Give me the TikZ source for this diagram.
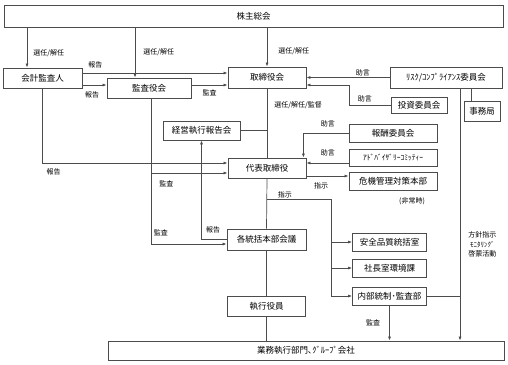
\documentclass[tikz,border=0pt]{standalone}
\usepackage{fontspec}
\setmainfont{Noto Sans CJK JP}
\usetikzlibrary{arrows.meta}
\begin{document}
\begin{tikzpicture}[x=1pt,y=-1pt,
    caixa/.style={draw=black!70,line width=0.8pt,inner sep=0pt,font=\fontsize{8.5}{10}\selectfont},
    rotulo/.style={font=\fontsize{7}{9.5}\selectfont,inner sep=1pt},
    linha/.style={draw=black!70,line width=0.7pt},
    seta/.style={linha,-{Latex[length=4pt,width=3pt]}}
]
\useasboundingbox (0,0) rectangle (508,364);

\node[caixa,minimum width=499,minimum height=22] (soukai) at (253.5,16) {株主総会};
\node[caixa,minimum width=79,minimum height=20] (kaikei) at (42.5,78) {会計監査人};
\node[caixa,minimum width=84,minimum height=20] (kansa) at (149,88) {監査役会};
\node[caixa,minimum width=78,minimum height=21] (torishimari) at (267,77.5) {取締役会};
\node[caixa,minimum width=112,minimum height=21] (risk) at (446,77.5) {ﾘｽｸ/ｺﾝﾌﾟﾗｲｱﾝｽ委員会};
\node[caixa,minimum width=56,minimum height=16] (toushi) at (419,105) {投資委員会};
\node[caixa,minimum width=36,minimum height=20] (jimu) at (482,111) {事務局};
\node[caixa,minimum width=77,minimum height=19] (keiei) at (201.5,130.5) {経営執行報告会};
\node[caixa,minimum width=88,minimum height=18] (housyu) at (393,133) {報酬委員会};
\node[caixa,minimum width=88,minimum height=17,font=\fontsize{7.5}{8}\selectfont] (advisory) at (393,157.5) {ｱﾄﾞﾊﾞｲｻﾞﾘｰｺﾐｯﾃｨｰ};
\node[caixa,minimum width=78,minimum height=20] (daihyo) at (267,168) {代表取締役};
\node[caixa,minimum width=88,minimum height=18] (kiki) at (393,181) {危機管理対策本部};
\node[rotulo] (hijouji) at (412,201) {(非常時)};
\node[caixa,minimum width=79,minimum height=21] (kaku) at (266.5,239.5) {各統括本部会議};
\node[caixa,minimum width=74,minimum height=18] (anzen) at (389.5,242) {安全品質統括室};
\node[caixa,minimum width=74,minimum height=18] (shacho) at (389.5,268) {社長室環境課};
\node[caixa,minimum width=74,minimum height=18] (naibu) at (389.5,296) {内部統制･監査部};
\node[caixa,minimum width=78,minimum height=20] (shikko) at (266.5,306) {執行役員};
\node[caixa,minimum width=396,minimum height=19] (gyomu) at (306,350.5) {業務執行部門､ｸﾞﾙｰﾌﾟ会社};

\coordinate (kaikeiin) at ([xshift=-15.5pt]kaikei.north);
\coordinate (kansain) at ([xshift=-14pt]kansa.north);
\coordinate (kansaout) at ([xshift=2pt]kansa.south);
\coordinate (toushiknick) at (349,85);
\coordinate (bunki) at (331,199);
\coordinate (riskdown) at ([xshift=14pt]risk.south);

\draw[seta] (kaikeiin |- soukai.south) -- node[rotulo,right=5pt,pos=0.65] {選任/解任} (kaikeiin);
\draw[seta] (kansain |- soukai.south) -- node[rotulo,right=7pt,pos=0.49] {選任/解任} (kansain);
\draw[seta] (soukai.south -| torishimari.north) -- node[rotulo,right=10pt,pos=0.6] {選任/解任} (torishimari.north);

\draw[seta] ([yshift=5pt]kaikei.east) -- node[rotulo,above=4pt,pos=0.09] {報告} ([yshift=4.5pt]torishimari.west);
\draw[seta] ([yshift=-7pt]kaikei.east) -- node[rotulo,below=5pt,pos=0.4] {報告} ([yshift=3pt]kansa.west);
\draw[seta] ([yshift=3pt]kansa.east) -- node[rotulo,below=3pt] {監査} ([yshift=-7.5pt]torishimari.west);

\draw[seta] (risk.west) -- node[rotulo,above=0pt,pos=0.32] {助言} (torishimari.east);
\draw[seta] (toushi.west) -| node[rotulo,above=2pt,pos=0.31] {助言} (toushiknick) -- ([yshift=-7.5pt]torishimari.east);
\draw[seta] (housyu.west) -| node[rotulo,above=5pt,pos=0.23] {助言} ([xshift=-3pt]daihyo.north east);
\draw[seta] ([yshift=-5.5pt]advisory.west) -- node[rotulo,above=6pt,pos=0.49] {助言} ([yshift=5pt]daihyo.east);
\draw[seta] ([yshift=-8pt]daihyo.east) -- node[rotulo,below=5pt,pos=0.35] {指示} ([yshift=5pt]kiki.west);

\draw[linha] (torishimari.south) -- node[rotulo,right=6pt,pos=0.24] {選任/解任/監督} (daihyo.north);
\draw[linha] (keiei.east) -- (keiei.east -| torishimari.south);

\draw[seta] (kaikei.south) |- node[rotulo,below=4.5pt,pos=0.53] {報告} ([yshift=5pt]daihyo.west);
\draw[seta] (kansaout) |- node[rotulo,below=6pt,pos=0.6] {監査} ([yshift=-5pt]daihyo.west);
\draw[seta] (kansaout) |- node[rotulo,above=7pt,pos=0.565] {監査} ([yshift=-4.5pt]kaku.west);
\draw[seta] (kaku.west) -| node[rotulo,above=5pt,pos=0.27] {報告} (keiei.south);

\draw[linha] (daihyo.south) -- (kaku.north);
\draw[seta] (daihyo.south |- bunki) -- node[rotulo,above=0pt,pos=0.28] {指示} (bunki) |- (naibu.west);
\draw[seta] (bunki |- anzen.west) -- (anzen.west);
\draw[seta] (bunki |- shacho.west) -- (shacho.west);

\draw[linha] (kaku.south) -- (shikko.north);
\draw[linha] (shikko.south) -- (shikko.south |- gyomu.north);
\draw[seta] (naibu.south) -- node[rotulo,left=8pt,pos=0.5] {監査} (naibu.south |- gyomu.north);
\draw[seta] (riskdown) -- node[rotulo,right=7pt,pos=0.62,align=center] {方針指示\\ﾓﾆﾀﾘﾝｸﾞ\\啓蒙活動} (riskdown |- gyomu.north);
\draw[linha] (naibu.east) -- (naibu.east -| riskdown);
\draw[linha] ([xshift=25pt]risk.south) -- ([xshift=-11pt]jimu.north);
\end{tikzpicture}
\end{document}
